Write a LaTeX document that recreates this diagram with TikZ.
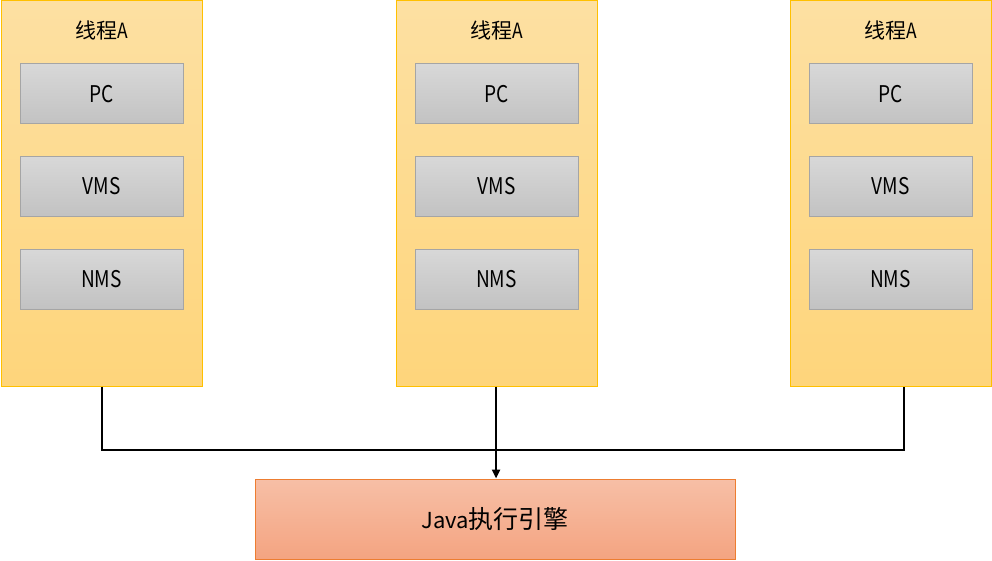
\documentclass[tikz,border=0pt]{standalone}
\usepackage{fontspec}
\setmainfont{Noto Sans CJK SC}
\newfontfamily\narrowfont[FakeStretch=0.83]{Noto Sans CJK SC}
\usetikzlibrary{arrows.meta}
\definecolor{thrtop}{HTML}{FDE0A2}
\definecolor{thrbot}{HTML}{FED57B}
\definecolor{thrline}{HTML}{FFC000}
\definecolor{boxtop}{HTML}{D8D8D8}
\definecolor{boxbot}{HTML}{C2C2C2}
\definecolor{boxline}{HTML}{A5A5A5}
\definecolor{jtop}{HTML}{F7BFA6}
\definecolor{jbot}{HTML}{F4A481}
\definecolor{jline}{HTML}{ED7D31}
\tikzset{
  thread/.style={draw=thrline, line width=1pt, top color=thrtop, bottom color=thrbot, minimum width=201pt, minimum height=385pt, inner sep=0pt},
  membox/.style={draw=boxline, line width=1pt, top color=boxtop, bottom color=boxbot, minimum width=163pt, minimum height=60pt, inner sep=0pt, font=\narrowfont\fontsize{23}{26}\selectfont},
  titletext/.style={font=\fontsize{21}{24}\selectfont},
  engine/.style={draw=jline, line width=1pt, top color=jtop, bottom color=jbot, minimum width=480pt, minimum height=80pt, inner sep=0pt, font=\fontsize{22}{26}\selectfont},
  link/.style={line width=2.5pt, black},
}
\newcommand{\lowtext}[1]{\raisebox{-2pt}{#1}}
\begin{document}
\begin{tikzpicture}[x=1pt,y=-1pt]
\useasboundingbox (0,0) rectangle (992,561);
\foreach \i/\x in {1/101.5, 2/496.5, 3/890.5} {
  \node[thread] (t\i) at (\x,193.5) {};
  \node[titletext] (h\i) at (\x,30) {线程{\narrowfont A}};
  \node[membox] (pc\i) at (\x,94) {\lowtext{PC}};
  \node[membox] (vms\i) at (\x,186.5) {\lowtext{VMS}};
  \node[membox] (nms\i) at (\x,279) {\lowtext{NMS}};
}
\node[engine] (java) at (495,519) {Java{\fontsize{25}{26}\selectfont 执行引擎}};
\draw[link] (t1.south -| 102,0) -- (102,450) -- (904,450) -- (t3.south -| 904,0);
\draw[link, line width=2.3pt, -{Triangle[length=9pt,width=8pt]}] (t2.south -| 496,0) -- (java.north -| 496,0);
\end{tikzpicture}
\end{document}
